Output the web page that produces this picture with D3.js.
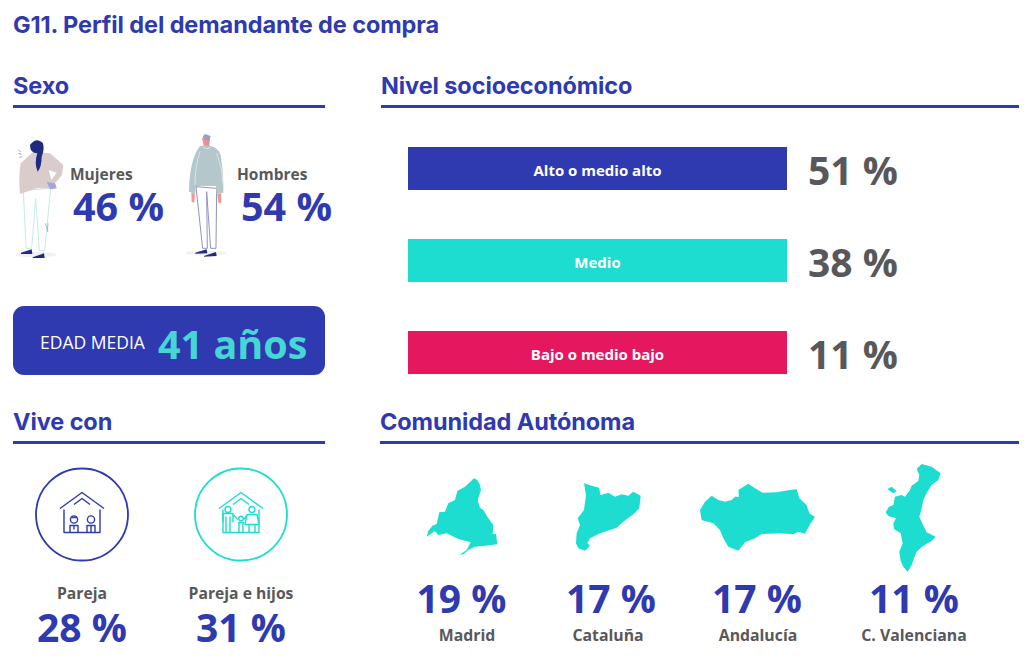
<!DOCTYPE html>
<html>
<head>
<meta charset="utf-8">
<style>
	html, body { margin: 0; padding: 0; background: #fff; }
	svg { display: block; }
	text { font-family: 'Open Sans', sans-serif; }
	.head { font-family: 'Inter', sans-serif; font-weight: 700; fill: #2f39b0; }
</style>
<script src="https://cdn.jsdelivr.net/npm/d3@7"></script>
</head>
<body>
<svg width="1029" height="668"></svg>
<script>
const BLUE = '#2f39b0', TEAL = '#1dddd0', RED = '#e5175e', GREY = '#58585a';

var svg = d3.select('svg');

// data
const sexo = [
	{ name: 'Mujeres', value: 46, xl: 70, xv: 73 },
	{ name: 'Hombres', value: 54, xl: 237, xv: 241 }
];
const nivel = [
	{ name: 'Alto o medio alto', value: 51, color: BLUE },
	{ name: 'Medio', value: 38, color: TEAL },
	{ name: 'Bajo o medio bajo', value: 11, color: RED }
];
const vive = [
	{ name: 'Pareja', value: 28, x: 82, color: BLUE },
	{ name: 'Pareja e hijos', value: 31, x: 241, color: TEAL }
];
// outlines (3x crop coordinates, origin in ox/oy)
const comunidades = [
	{ name: 'Madrid', value: 19, x: 461.5, xl: 467, ox: 400, oy: 455, shapes: [[[222,70],[232,75],[240,90],[243,105],[233,135],[240,158],[250,165],[265,190],[280,210],[278,238],[288,236],[292,268],[255,272],[225,275],[205,285],[190,298],[178,300],[200,285],[212,262],[175,252],[140,235],[115,240],[105,228],[80,245],[85,228],[97,212],[110,207],[118,172],[135,170],[145,145],[165,135],[172,108],[195,95]]] },
	{ name: 'Cataluña', value: 17, x: 611, xl: 608, ox: 400, oy: 455, shapes: [[[552,85],[575,92],[597,98],[602,120],[625,113],[645,125],[665,118],[685,122],[700,110],[722,122],[718,160],[700,178],[670,200],[650,218],[600,235],[570,250],[562,265],[570,272],[555,287],[535,280],[528,265],[530,235],[540,210],[533,190],[552,165],[558,120]]] },
	{ name: 'Andalucía', value: 17, x: 757, xl: 758, ox: 690, oy: 455, shapes: [[[30,165],[45,140],[65,122],[85,135],[105,140],[125,135],[135,125],[147,125],[145,105],[175,86],[195,100],[218,113],[260,112],[300,105],[320,103],[328,130],[350,150],[358,175],[375,186],[362,205],[345,236],[325,230],[310,238],[270,235],[215,237],[195,250],[165,262],[145,287],[115,275],[100,250],[90,225],[70,205],[35,195]]] },
	{ name: 'C. Valenciana', value: 11, x: 914, xl: 914, ox: 690, oy: 455, shapes: [[[695,27],[725,35],[752,55],[745,75],[725,90],[712,110],[700,135],[695,160],[688,185],[697,205],[710,232],[737,245],[725,258],[700,272],[680,290],[672,310],[665,330],[653,350],[640,335],[632,318],[628,290],[638,265],[632,235],[612,222],[610,205],[618,190],[595,183],[587,172],[597,155],[610,150],[615,125],[635,120],[645,125],[660,105],[665,92],[685,78],[688,60],[680,42]], [[592,103],[605,95],[620,108],[610,115]]] }
];

// headings
svg.append('text').attr('class', 'head').attr('x', 13).attr('y', 33).attr('font-size', 23.5).style('letter-spacing', '-0.1px').text('G11. Perfil del demandante de compra');

const secciones = [
	{ t: 'Sexo', x1: 13, x2: 325, y: 94 },
	{ t: 'Nivel socioeconómico', x1: 381, x2: 1019, y: 94 },
	{ t: 'Vive con', x1: 13, x2: 325, y: 430 },
	{ t: 'Comunidad Autónoma', x1: 380, x2: 1019, y: 430 }
];
secciones.forEach((s) => {
	svg.append('text').attr('class', 'head').attr('x', s.x1).attr('y', s.y).attr('font-size', 23.5).style('letter-spacing', '-0.1px').text(s.t);
	svg.append('rect').attr('x', s.x1).attr('y', s.y + 11).attr('width', s.x2 - s.x1).attr('height', 3).attr('fill', BLUE);
});

// sexo figures, drawn in 3x crop coordinates
var fig = svg.append('g').attr('transform', 'translate(0,120) scale(0.3333)');
function shape(d, fill, stroke, sw) {
	fig.append('path').attr('d', d).attr('fill', fill || 'none').attr('stroke', stroke || 'none').attr('stroke-width', sw || 0);
}
// woman
fig.append('ellipse').attr('cx', 108).attr('cy', 404).attr('rx', 62).attr('ry', 8).attr('fill', '#f1f1f1');
shape('M70 212 L78 385 L95 385 L107 235 L118 392 L134 392 L152 205 Z', '#fff', '#c5ebe8', 3);
shape('M62 130 L100 95 L150 100 L190 135 L186 165 L165 190 L170 205 L110 205 L60 222 Q55 170 62 130 Z', '#d9cccb');
shape('M146 150 L170 158 L154 180 Z', '#fff');
shape('M140 185 L165 190 L170 205 L150 208 Z', '#a3a8d6');
shape('M90 75 Q108 50 128 68 Q135 85 125 110 Q125 140 113 155 Q102 130 112 100 Q90 100 90 75 Z', '#1f2a80');
shape('M63 398 L95 388 L97 402 L63 402 Z', '#1f2a80');
shape('M98 412 L132 400 L134 414 L98 414 Z', '#1f2a80');
shape('M55 90 L62 95 M55 100 L65 103 M58 112 L65 110', null, '#8f93c8', 2.5);
shape('M136 310 L144 335 M144 310 L142 335', null, '#8fb2d0', 2.5);
// man
fig.append('ellipse').attr('cx', 618).attr('cy', 399).attr('rx', 62).attr('ry', 7).attr('fill', '#f1f1f1');
shape('M588 200 L608 385 L622 385 L620 215 L632 385 L648 385 L650 205 Z', '#fff', '#8f91c4', 3);
shape('M606 55 Q618 45 630 55 L628 78 L612 78 Z', '#ef8e8e');
shape('M608 50 L615 42 L632 48 L628 62 L612 55 Z', '#9a9ccb');
shape('M600 78 Q650 70 662 105 Q672 170 670 218 L650 222 L648 198 L588 198 L585 222 L567 215 Q568 120 600 78 Z', '#b4c8cc');
shape('M600 95 Q585 140 585 195 M650 100 Q668 150 668 190 M610 82 Q620 90 632 82', null, '#dfe9ea', 2.5);
shape('M574 218 L585 222 L583 248 L575 245 Z', '#ef9b92');
shape('M652 222 L664 220 L663 250 L655 248 Z', '#ef9b92');
shape('M586 398 L620 388 L622 400 L586 401 Z', '#1f2a80');
shape('M612 408 L648 396 L650 408 L612 410 Z', '#1f2a80');

svg.selectAll('.sexoL').data(sexo).enter().append('text')
	.attr('x', (d) => d.xl).attr('y', 180)
	.attr('font-size', 15.5).attr('font-weight', 700).attr('fill', GREY)
	.text((d) => d.name);
svg.selectAll('.sexoV').data(sexo).enter().append('text')
	.attr('x', (d) => d.xv).attr('y', 221)
	.attr('font-size', 39.5).attr('font-weight', 700).attr('fill', BLUE)
	.text((d) => `${d.value} %`);

// edad media
svg.append('rect').attr('x', 13).attr('y', 306).attr('width', 312).attr('height', 69).attr('rx', 11).attr('fill', BLUE);
svg.append('text').attr('x', 40).attr('y', 349).attr('font-size', 17.5).attr('fill', '#fff').text('EDAD MEDIA');
svg.append('text').attr('x', 158).attr('y', 359).attr('font-size', 39.5).attr('font-weight', 700).attr('fill', '#45d8d3').text('41 años');

// nivel socioeconomico
var y = d3.scaleBand().domain(nivel.map((d) => d.name)).range([ 147, 374 ]).paddingInner(49 / 92);

svg.selectAll('.bar').data(nivel).enter().append('rect')
	.attr('x', 408).attr('y', (d) => y(d.name))
	.attr('width', 379).attr('height', y.bandwidth())
	.attr('fill', (d) => d.color);
svg.selectAll('.barL').data(nivel).enter().append('text')
	.attr('x', 597.5).attr('y', (d) => y(d.name) + y.bandwidth() / 2 + 7)
	.attr('text-anchor', 'middle').attr('font-size', 15).attr('font-weight', 700).attr('fill', '#fff')
	.text((d) => d.name);
svg.selectAll('.barV').data(nivel).enter().append('text')
	.attr('x', 808).attr('y', (d) => y(d.name) + 38)
	.attr('font-size', 39).attr('font-weight', 700).attr('fill', GREY)
	.text((d) => `${d.value} %`);

// vive con
vive.forEach((d, i) => {
	let g = svg.append('g').attr('transform', `translate(${d.x},514.5)`);
	g.append('circle').attr('r', 46).attr('fill', 'none').attr('stroke', d.color).attr('stroke-width', 1.8);
	let ic = g.append('g').attr('fill', 'none').attr('stroke', d.color).attr('stroke-width', 1.4).attr('stroke-linejoin', 'round');
	ic.append('path').attr('d', 'M-22 -6 L0 -22 L22 -6 M-18 -5 L-18 18 L18 18 L18 -5 M-8 -10 L0 -16 L8 -10');
	if (i === 0) {
		ic.append('circle').attr('cx', -8).attr('cy', 5).attr('r', 3.6);
		ic.append('path').attr('d', 'M-12 18 L-12 11 L-4 11 L-4 18 M-11 3 L-5 3 M-8 11 L-8 15');
		ic.append('circle').attr('cx', 9).attr('cy', 5).attr('r', 3.6);
		ic.append('path').attr('d', 'M5 18 L5 11 L13 11 L13 18 M9 11 L9 18');
	} else {
		ic.append('circle').attr('cx', -13).attr('cy', -5).attr('r', 3);
		ic.append('path').attr('d', 'M-18 8 L-18 -1 L-8 -1 L-8 8 M-15 18 L-15 2 M-11 18 L-11 2 M-8 0 L-3 5');
		ic.append('circle').attr('cx', 11).attr('cy', -5).attr('r', 3);
		ic.append('path').attr('d', 'M6 0 L16 0 L18 10 L4 10 Z M8 18 L8 10 M14 18 L14 10 M6 0 L3 5');
		ic.append('circle').attr('cx', 0).attr('cy', 4).attr('r', 2.3);
		ic.append('path').attr('d', 'M-3 8 L3 8 M-2 18 L-2 8 M2 18 L2 8');
	}
});
svg.selectAll('.viveL').data(vive).enter().append('text')
	.attr('x', (d) => d.x).attr('y', 599)
	.attr('text-anchor', 'middle').attr('font-size', 15.7).attr('font-weight', 700).attr('fill', GREY)
	.text((d) => d.name);
svg.selectAll('.viveV').data(vive).enter().append('text')
	.attr('x', (d) => d.x).attr('y', 642)
	.attr('text-anchor', 'middle').attr('font-size', 39).attr('font-weight', 700).attr('fill', BLUE)
	.text((d) => `${d.value} %`);

// comunidades
var line = d3.line().curve(d3.curveLinearClosed);
comunidades.forEach((d) => {
	let g = svg.append('g').attr('transform', `translate(${d.ox},${d.oy}) scale(0.3333)`);
	d.shapes.forEach((s) => g.append('path').attr('d', line(s)).attr('fill', TEAL));
});
svg.selectAll('.comV').data(comunidades).enter().append('text')
	.attr('x', (d) => d.x).attr('y', 613)
	.attr('text-anchor', 'middle').attr('font-size', 39).attr('font-weight', 700).attr('fill', BLUE)
	.text((d) => `${d.value} %`);
svg.selectAll('.comL').data(comunidades).enter().append('text')
	.attr('x', (d) => d.xl).attr('y', 641)
	.attr('text-anchor', 'middle').attr('font-size', 15.8).attr('font-weight', 700).attr('fill', GREY)
	.text((d) => d.name);
</script>
</body>
</html>
